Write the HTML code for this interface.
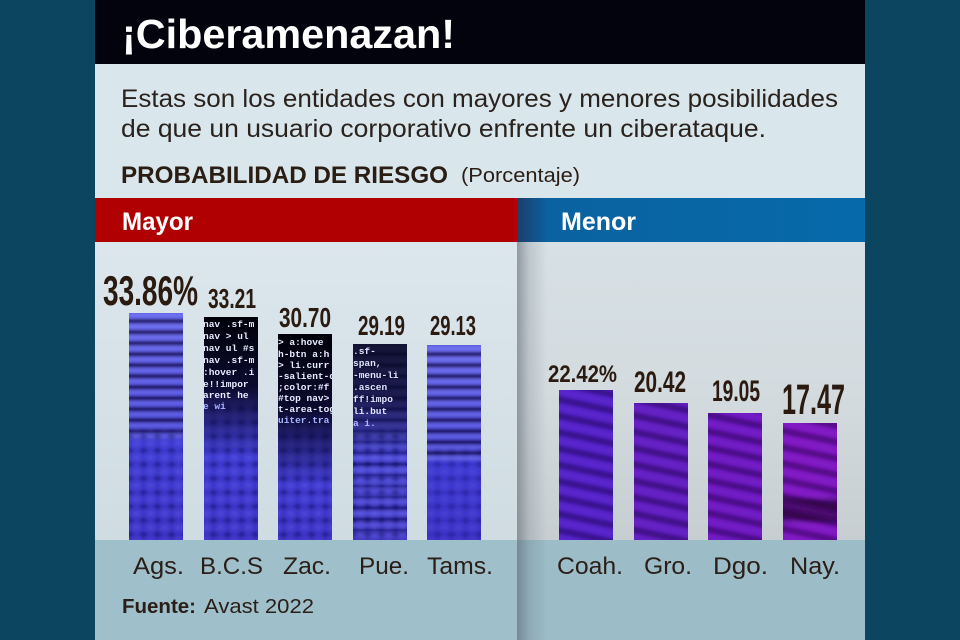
<!DOCTYPE html>
<html><head><meta charset="utf-8"><style>
html,body{margin:0;padding:0;background:#0b4560;}
svg{display:block;}
</style></head><body>
<svg width="960" height="640" viewBox="0 0 960 640" xmlns="http://www.w3.org/2000/svg">
<defs>
  <linearGradient id="leftBg" x1="0" y1="0" x2="0" y2="1">
    <stop offset="0" stop-color="#dce7ed"/><stop offset="1" stop-color="#cfdce2"/>
  </linearGradient>
  <linearGradient id="rightBg" x1="0" y1="0" x2="0" y2="1">
    <stop offset="0" stop-color="#d7e0e4"/><stop offset="0.5" stop-color="#d3dbdf"/><stop offset="1" stop-color="#c7ced1"/>
  </linearGradient>
  <linearGradient id="shadow" x1="0" y1="0" x2="1" y2="0">
    <stop offset="0" stop-color="#55606a" stop-opacity="0.55"/><stop offset="0.4" stop-color="#55606a" stop-opacity="0.2"/><stop offset="1" stop-color="#55606a" stop-opacity="0"/>
  </linearGradient>
  <linearGradient id="blueBand" x1="0" y1="0" x2="1" y2="0">
    <stop offset="0" stop-color="#1a3f6a"/><stop offset="0.09" stop-color="#0b62a0"/><stop offset="1" stop-color="#066aaa"/>
  </linearGradient>
  <linearGradient id="blueBar" x1="0" y1="0" x2="0" y2="1">
    <stop offset="0" stop-color="#5c5cea"/><stop offset="0.5" stop-color="#3e3ad4"/><stop offset="1" stop-color="#3c30c6"/>
  </linearGradient>
  <linearGradient id="codeFade" x1="0" y1="0" x2="0" y2="1">
    <stop offset="0" stop-color="#000008" stop-opacity="1"/><stop offset="0.5" stop-color="#000010" stop-opacity="0.85"/><stop offset="1" stop-color="#000010" stop-opacity="0"/>
  </linearGradient>
  <pattern id="stripes" x="0" y="0" width="60" height="11" patternUnits="userSpaceOnUse">
    <rect x="0" y="0" width="60" height="4.5" fill="#0a0830" opacity="0.7"/>
    <rect x="0" y="6" width="60" height="3" fill="#9a9cff" opacity="0.5"/>
  </pattern>
  <pattern id="streaks" x="0" y="0" width="60" height="16" patternUnits="userSpaceOnUse" patternTransform="rotate(12)">
    <rect x="0" y="0" width="60" height="5" fill="#150830" opacity="0.5"/>
    <rect x="0" y="9" width="60" height="3" fill="#b040ff" opacity="0.3"/>
  </pattern>
  <pattern id="blur" x="0" y="0" width="14" height="14" patternUnits="userSpaceOnUse">
    <rect x="0" y="0" width="7" height="5" fill="#0a0830" opacity="0.45"/>
    <rect x="7" y="7" width="7" height="5" fill="#7a80ff" opacity="0.35"/>
  </pattern>
  <filter id="soft" x="-10%" y="-10%" width="120%" height="120%"><feGaussianBlur stdDeviation="1.6"/></filter>
  <filter id="softer" x="-10%" y="-10%" width="120%" height="120%"><feGaussianBlur stdDeviation="2.5"/></filter>
  <clipPath id="cA"><rect x="129" y="313" width="54" height="227"/></clipPath>
  <clipPath id="cB"><rect x="204" y="317" width="54" height="223"/></clipPath>
  <clipPath id="cZ"><rect x="278" y="334" width="54" height="206"/></clipPath>
  <clipPath id="cP"><rect x="353" y="344" width="54" height="196"/></clipPath>
  <clipPath id="cT"><rect x="427" y="345" width="54" height="195"/></clipPath>
  <clipPath id="c1"><rect x="559" y="390" width="54" height="150"/></clipPath>
  <clipPath id="c2"><rect x="634" y="403" width="54" height="137"/></clipPath>
  <clipPath id="c3"><rect x="708" y="413" width="54" height="127"/></clipPath>
  <clipPath id="c4"><rect x="783" y="423" width="54" height="117"/></clipPath>
</defs>

<rect x="0" y="0" width="960" height="640" fill="#0b4560"/>
<rect x="95" y="0" width="770" height="64" fill="#02030d"/>
<text x="122" y="48" font-family="Liberation Sans, sans-serif" font-weight="bold" font-size="41" fill="#ffffff" textLength="333" lengthAdjust="spacingAndGlyphs">¡Ciberamenazan!</text>
<rect x="95" y="64" width="770" height="134" fill="#d9e6ec"/>
<text x="121" y="107" font-family="Liberation Sans, sans-serif" font-size="25" fill="#2a221c" textLength="717" lengthAdjust="spacingAndGlyphs">Estas son los entidades con mayores y menores posibilidades</text>
<text x="121" y="137" font-family="Liberation Sans, sans-serif" font-size="25" fill="#2a221c" textLength="645" lengthAdjust="spacingAndGlyphs">de que un usuario corporativo enfrente un ciberataque.</text>
<text x="121" y="183" font-family="Liberation Sans, sans-serif" font-weight="bold" font-size="24" fill="#2a1d14" textLength="327" lengthAdjust="spacingAndGlyphs">PROBABILIDAD DE RIESGO</text>
<text x="461" y="182" font-family="Liberation Sans, sans-serif" font-size="20" fill="#2a1d14" textLength="119" lengthAdjust="spacingAndGlyphs">(Porcentaje)</text>

<rect x="95" y="198" width="423" height="44" fill="#b00002"/>
<rect x="517" y="198" width="348" height="44" fill="url(#blueBand)"/>
<text x="122" y="230" font-family="Liberation Sans, sans-serif" font-weight="bold" font-size="25" fill="#ffffff" textLength="71" lengthAdjust="spacingAndGlyphs">Mayor</text>
<text x="561" y="230" font-family="Liberation Sans, sans-serif" font-weight="bold" font-size="25" fill="#ffffff" textLength="75" lengthAdjust="spacingAndGlyphs">Menor</text>

<rect x="95" y="242" width="423" height="298" fill="url(#leftBg)"/>
<rect x="517" y="242" width="348" height="298" fill="url(#rightBg)"/>
<rect x="95" y="540" width="423" height="100" fill="#9fbfca"/>
<rect x="517" y="540" width="348" height="100" fill="#9cbcc7"/>
<rect x="517" y="242" width="30" height="398" fill="url(#shadow)"/>

<!-- Ags -->
<g clip-path="url(#cA)">
  <rect x="129" y="313" width="54" height="227" fill="url(#blueBar)"/>
  <g filter="url(#soft)"><rect x="125" y="313" width="62" height="125" fill="url(#stripes)"/></g>
  <g filter="url(#softer)"><rect x="125" y="430" width="62" height="112" fill="url(#blur)"/></g>
</g>
<!-- B.C.S -->
<g clip-path="url(#cB)">
  <rect x="204" y="317" width="54" height="223" fill="url(#blueBar)"/>
  <g filter="url(#softer)"><rect x="200" y="400" width="62" height="142" fill="url(#blur)"/></g>
  <rect x="204" y="317" width="54" height="140" fill="url(#codeFade)"/>
  <g font-family="Liberation Mono, monospace" font-weight="bold" font-size="9.5" fill="#e8ecff">
    <text x="203" y="327">nav .sf-m</text>
    <text x="203" y="339">nav &gt; ul</text>
    <text x="203" y="351">nav ul #s</text>
    <text x="203" y="363">nav .sf-m</text>
    <text x="203" y="375">:hover .i</text>
    <text x="203" y="387">e!!impor</text>
    <text x="203" y="398">arent he</text>
    <text x="203" y="409" fill="#a9b4ff">e wi</text>
  </g>
</g>
<!-- Zac -->
<g clip-path="url(#cZ)">
  <rect x="278" y="334" width="54" height="206" fill="url(#blueBar)"/>
  <g filter="url(#softer)"><rect x="274" y="420" width="62" height="122" fill="url(#blur)"/></g>
  <rect x="278" y="334" width="54" height="150" fill="url(#codeFade)"/>
  <g font-family="Liberation Mono, monospace" font-weight="bold" font-size="9.5" fill="#e8ecff">
    <text x="278" y="345">  &gt; a:hove</text>
    <text x="278" y="357">h-btn a:h</text>
    <text x="278" y="368">  &gt; li.curr</text>
    <text x="278" y="379">-salient-c</text>
    <text x="278" y="390">;color:#f</text>
    <text x="278" y="401">#top nav&gt;</text>
    <text x="278" y="412">t-area-tog</text>
    <text x="278" y="423" fill="#a9b4ff">uiter.tra</text>
  </g>
</g>
<!-- Pue -->
<g clip-path="url(#cP)">
  <rect x="353" y="344" width="54" height="196" fill="url(#blueBar)"/>
  <g filter="url(#soft)"><rect x="349" y="344" width="62" height="196" fill="url(#stripes)" opacity="0.6"/></g>
  <g filter="url(#softer)"><rect x="349" y="430" width="62" height="112" fill="url(#blur)"/></g>
  <rect x="353" y="344" width="54" height="110" fill="url(#codeFade)" opacity="0.8"/>
  <g font-family="Liberation Mono, monospace" font-weight="bold" font-size="9.5" fill="#dfe5ff">
    <text x="353" y="354">.sf-</text>
    <text x="353" y="366">  span,</text>
    <text x="353" y="378">-menu-li</text>
    <text x="353" y="390">.ascen</text>
    <text x="353" y="402">ff!impo</text>
    <text x="353" y="414">li.but</text>
    <text x="353" y="426" fill="#b0b8ff">  a i.</text>
  </g>
</g>
<!-- Tams -->
<g clip-path="url(#cT)">
  <rect x="427" y="345" width="54" height="195" fill="url(#blueBar)"/>
  <g filter="url(#soft)"><rect x="423" y="345" width="62" height="115" fill="url(#stripes)"/></g>
  <g filter="url(#softer)"><rect x="423" y="450" width="62" height="92" fill="url(#blur)" opacity="0.7"/></g>
</g>

<!-- right bars -->
<g clip-path="url(#c1)">
  <rect x="559" y="390" width="54" height="150" fill="#4b20c4"/>
  <g filter="url(#softer)"><rect x="550" y="385" width="72" height="160" fill="url(#streaks)"/></g>
</g>
<g clip-path="url(#c2)">
  <rect x="634" y="403" width="54" height="137" fill="#5a1cbc"/>
  <g filter="url(#softer)"><rect x="625" y="398" width="72" height="147" fill="url(#streaks)"/></g>
</g>
<g clip-path="url(#c3)">
  <rect x="708" y="413" width="54" height="127" fill="#6816bc"/>
  <g filter="url(#softer)"><rect x="699" y="408" width="72" height="137" fill="url(#streaks)"/></g>
</g>
<g clip-path="url(#c4)">
  <rect x="783" y="423" width="54" height="117" fill="#7a14bc"/>
  <g filter="url(#softer)"><rect x="774" y="418" width="72" height="127" fill="url(#streaks)"/>
  <rect x="775" y="498" width="70" height="24" fill="#1a0820" opacity="0.55"/></g>
</g>

<g font-family="Liberation Sans, sans-serif" font-weight="bold" fill="#2b1a10">
  <text x="103" y="305" font-size="42" textLength="95" lengthAdjust="spacingAndGlyphs">33.86%</text>
  <text x="208" y="308" font-size="28" textLength="48" lengthAdjust="spacingAndGlyphs">33.21</text>
  <text x="279" y="327" font-size="28" textLength="52" lengthAdjust="spacingAndGlyphs">30.70</text>
  <text x="358" y="335" font-size="28" textLength="47" lengthAdjust="spacingAndGlyphs">29.19</text>
  <text x="430" y="335" font-size="28" textLength="46" lengthAdjust="spacingAndGlyphs">29.13</text>
  <text x="548" y="382" font-size="24" textLength="69" lengthAdjust="spacingAndGlyphs">22.42%</text>
  <text x="634" y="392" font-size="30" textLength="52" lengthAdjust="spacingAndGlyphs">20.42</text>
  <text x="712" y="401" font-size="30" textLength="48" lengthAdjust="spacingAndGlyphs">19.05</text>
  <text x="782" y="414" font-size="43" textLength="63" lengthAdjust="spacingAndGlyphs">17.47</text>
</g>

<g font-family="Liberation Sans, sans-serif" font-size="24" fill="#2a1f18">
  <text x="133" y="574" textLength="51" lengthAdjust="spacingAndGlyphs">Ags.</text>
  <text x="200" y="574" textLength="63" lengthAdjust="spacingAndGlyphs">B.C.S</text>
  <text x="283" y="574" textLength="48" lengthAdjust="spacingAndGlyphs">Zac.</text>
  <text x="359" y="574" textLength="50" lengthAdjust="spacingAndGlyphs">Pue.</text>
  <text x="427" y="574" textLength="66" lengthAdjust="spacingAndGlyphs">Tams.</text>
  <text x="557" y="574" textLength="66" lengthAdjust="spacingAndGlyphs">Coah.</text>
  <text x="644" y="574" textLength="48" lengthAdjust="spacingAndGlyphs">Gro.</text>
  <text x="713" y="574" textLength="55" lengthAdjust="spacingAndGlyphs">Dgo.</text>
  <text x="790" y="574" textLength="50" lengthAdjust="spacingAndGlyphs">Nay.</text>
</g>
<text x="122" y="613" font-family="Liberation Sans, sans-serif" font-weight="bold" font-size="20" fill="#2a1f18" textLength="74" lengthAdjust="spacingAndGlyphs">Fuente:</text>
<text x="204" y="613" font-family="Liberation Sans, sans-serif" font-size="20" fill="#2a1f18" textLength="110" lengthAdjust="spacingAndGlyphs">Avast 2022</text>
</svg>
</body></html>
